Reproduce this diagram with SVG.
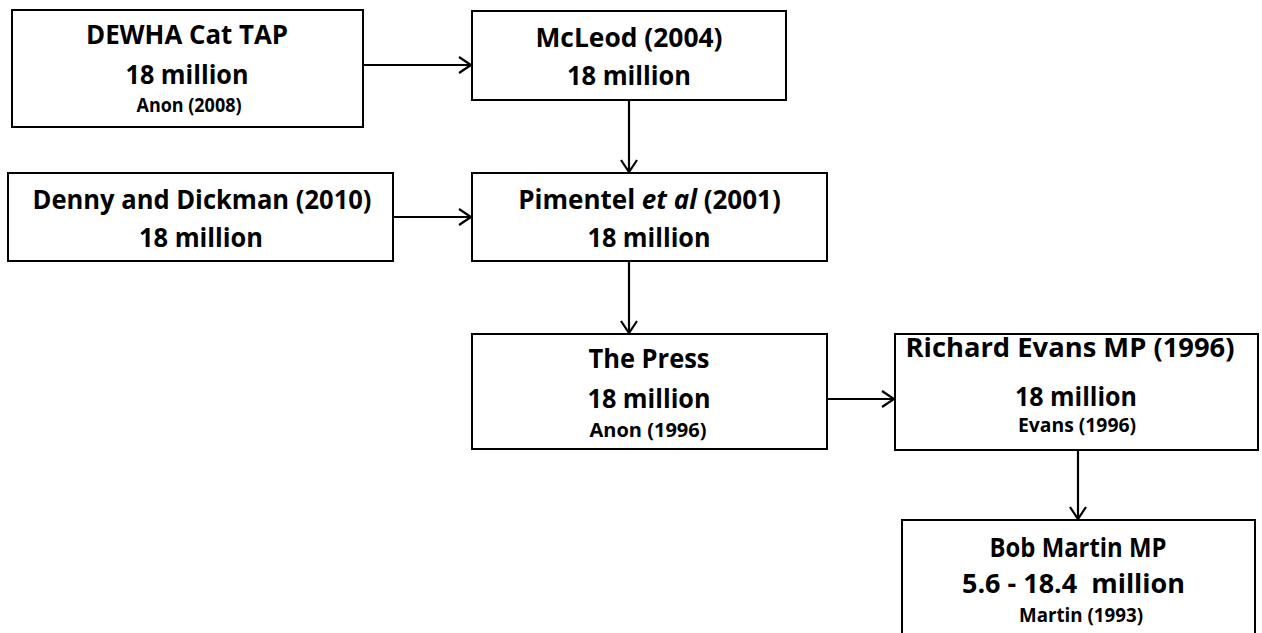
<svg xmlns="http://www.w3.org/2000/svg" width="1262" height="633" viewBox="0 0 1262 633">
<style>
.box{fill:#fff;stroke:#000;stroke-width:2}
.t{font-family:"Open Sans","Liberation Sans",sans-serif;font-weight:bold;fill:#000;text-anchor:middle}
.m{font-size:27.5px}
.s{font-size:19px}
.c{stroke:#000;stroke-width:2.2;fill:none}
</style>
<defs>
<marker id="ah" markerUnits="userSpaceOnUse" markerWidth="16" markerHeight="20" refX="13" refY="9" orient="auto">
<path d="M1,1 L13,9 L1,17" fill="none" stroke="#000" stroke-width="2.2"/>
</marker>
</defs>
<rect width="1262" height="633" fill="#fff"/>
<g id="connectors">
<line class="c" x1="363" y1="65" x2="471" y2="65" marker-end="url(#ah)"/>
<line class="c" x1="629" y1="100" x2="629" y2="172" marker-end="url(#ah)"/>
<line class="c" x1="393" y1="217" x2="471" y2="217" marker-end="url(#ah)"/>
<line class="c" x1="629" y1="261" x2="629" y2="333" marker-end="url(#ah)"/>
<line class="c" x1="827" y1="399" x2="894" y2="399" marker-end="url(#ah)"/>
<line class="c" x1="1078" y1="450" x2="1078" y2="519" marker-end="url(#ah)"/>
</g>
<g id="dewha">
<rect class="box" x="12" y="10" width="351" height="117"/>
<text class="t m" x="187" y="44" textLength="202" lengthAdjust="spacingAndGlyphs">DEWHA Cat TAP</text>
<text class="t m" x="187" y="84" textLength="123" lengthAdjust="spacingAndGlyphs">18 million</text>
<text class="t s" x="189" y="112" textLength="105" lengthAdjust="spacingAndGlyphs">Anon (2008)</text>
</g>
<g id="mcleod">
<rect class="box" x="472" y="11" width="314" height="89"/>
<text class="t m" x="629" y="47" textLength="187" lengthAdjust="spacingAndGlyphs">McLeod (2004)</text>
<text class="t m" x="629" y="85" textLength="124" lengthAdjust="spacingAndGlyphs">18 million</text>
</g>
<g id="denny">
<rect class="box" x="8" y="173" width="385" height="88"/>
<text class="t m" x="202" y="209" textLength="339" lengthAdjust="spacingAndGlyphs">Denny and Dickman (2010)</text>
<text class="t m" x="201" y="247" textLength="124" lengthAdjust="spacingAndGlyphs">18 million</text>
</g>
<g id="pimentel">
<rect class="box" x="472" y="173" width="355" height="88"/>
<text class="t" x="649.5" y="209" font-size="26">Pimentel <tspan font-style="italic">et al</tspan> (2001)</text>
<text class="t m" x="649" y="247" textLength="123" lengthAdjust="spacingAndGlyphs">18 million</text>
</g>
<g id="press">
<rect class="box" x="472" y="334" width="355" height="115"/>
<text class="t m" x="649" y="368" textLength="121" lengthAdjust="spacingAndGlyphs">The Press</text>
<text class="t m" x="649" y="408" textLength="123" lengthAdjust="spacingAndGlyphs">18 million</text>
<text class="t s" x="648" y="437" textLength="117" lengthAdjust="spacingAndGlyphs">Anon (1996)</text>
</g>
<g id="evans">
<rect class="box" x="895" y="334" width="363" height="116"/>
<text class="t m" x="1070" y="357" textLength="329" lengthAdjust="spacingAndGlyphs">Richard Evans MP (1996)</text>
<text class="t m" x="1076" y="406" textLength="122" lengthAdjust="spacingAndGlyphs">18 million</text>
<text class="t s" x="1077" y="432" textLength="118" lengthAdjust="spacingAndGlyphs">Evans (1996)</text>
</g>
<g id="martin">
<rect class="box" x="902" y="520" width="353" height="125"/>
<text class="t m" x="1078" y="557" textLength="177" lengthAdjust="spacingAndGlyphs">Bob Martin MP</text>
<text class="t m" x="1073.5" y="593" textLength="223" lengthAdjust="spacingAndGlyphs" xml:space="preserve">5.6 - 18.4  million</text>
<text class="t s" x="1081" y="622" textLength="124" lengthAdjust="spacingAndGlyphs">Martin (1993)</text>
</g>
</svg>
